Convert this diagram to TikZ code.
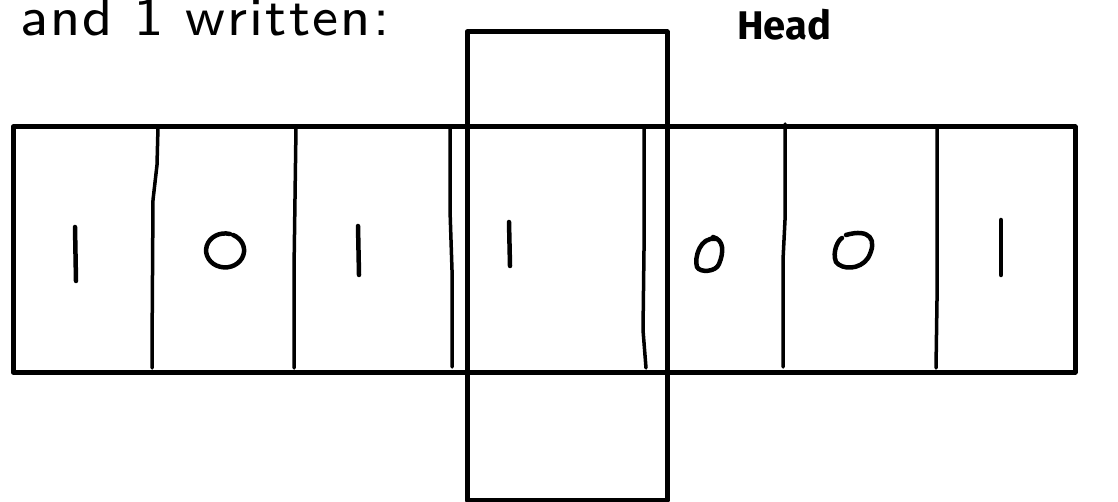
\documentclass[tikz,border=0pt]{standalone}
\usepackage{fontspec}
\newfontfamily\headfont{Fira Sans}
\newfontfamily\capfont{lmsans8-regular}[Extension=.otf,LetterSpace=4]
\begin{document}
\begin{tikzpicture}[x=1pt,y=-1pt,
  frame/.style={line width=5pt,line join=round},
  divider/.style={line width=3.5pt,line cap=round,line join=round},
  digit/.style={line width=4.5pt,line cap=round,line join=round}]
\useasboundingbox (0,0) rectangle (1118,502);
% caption
\node[anchor=base west,inner sep=0pt,font=\capfont\fontsize{55}{60}\selectfont] (caption) at (20,36) {and 1 written:};
% tape
\draw[frame] (13,127) rectangle (1075,372);
% hand-drawn cell dividers
\draw[divider] (158,127) -- (157,165) -- (153,200) -- (152,350) -- (152,368);
\draw[divider] (296,127) -- (294,270) -- (294,368);
\draw[divider] (450,127) -- (450,210) -- (452,270) -- (452,367);
\draw[divider] (644,127) -- (644,250) -- (643,330) -- (646,368);
\draw[divider] (785,124) -- (785,220) -- (783,260) -- (783,367);
\draw[divider] (937,127) -- (937,300) -- (936,368);
% symbols on the tape
\draw[digit] (75,227) -- (76,281);
\draw[digit] (230,234) arc[start angle=-75,end angle=-425,x radius=19,y radius=17];
\draw[digit] (358,226) -- (359,275);
\draw[digit] (509,222) -- (510,266);
\draw[digit] (716,239) .. controls (700,236) and (694,258) .. (697,267)
                       .. controls (700,273) and (716,272) .. (719,264)
                       .. controls (724,252) and (724,240) .. (713,237);
\draw[digit] (846,235) .. controls (870,228) and (878,240) .. (868,258)
                       .. controls (860,270) and (842,270) .. (836,262)
                       .. controls (832,252) and (838,240) .. (842,238);
\draw[digit] (1001,220) -- (1001,275);
% read/write head
\draw[frame] (467,32) rectangle (667,500);
\node[anchor=base west,inner sep=0pt,font=\headfont\bfseries\fontsize{40}{44}\selectfont] (head) at (737,40) {Head};
\end{tikzpicture}
\end{document}
